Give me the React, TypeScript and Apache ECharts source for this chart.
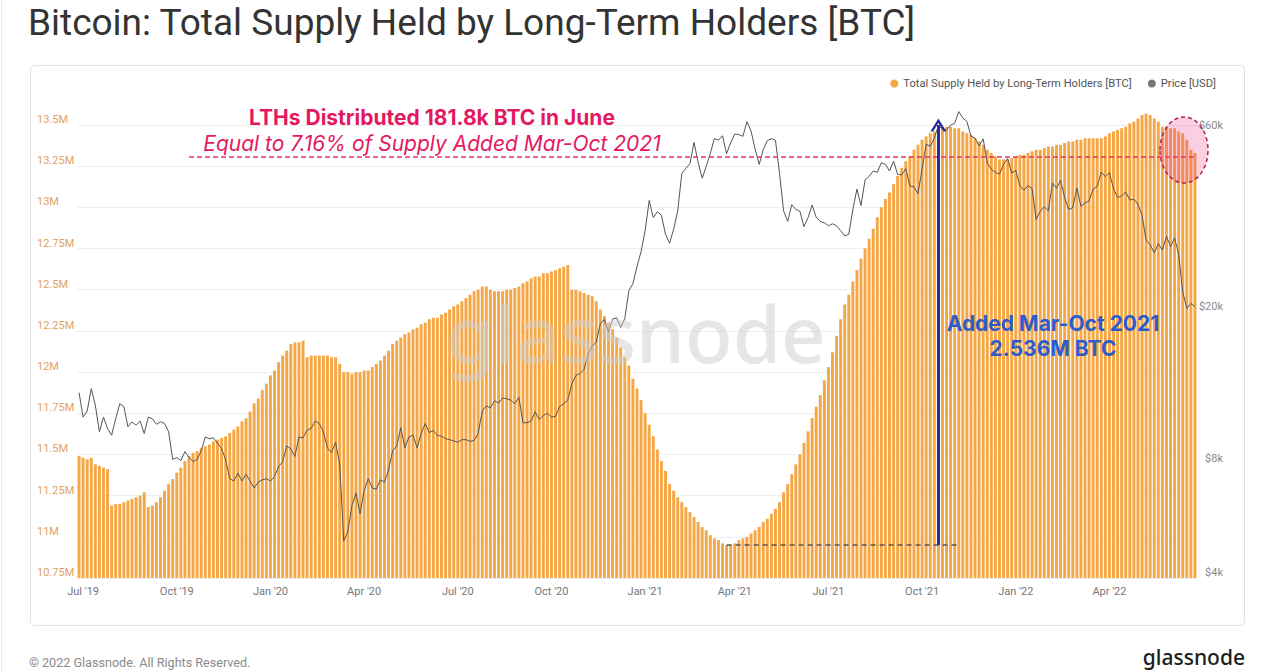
import React, { useEffect, useRef } from "react";
import * as echarts from "echarts";

// ---- data ----
const startDate = "2019-06-27";
const stepDays = 4;

// Total Supply Held by Long-Term Holders, millions of BTC, one value every 4 days
const supplyM = [
  11.49, 11.48, 11.47, 11.48, 11.44, 11.43, 11.42, 11.41, 11.19, 11.2,
  11.2, 11.21, 11.22, 11.23, 11.24, 11.25, 11.27, 11.18, 11.19, 11.21,
  11.24, 11.28, 11.32, 11.35, 11.39, 11.42, 11.46, 11.49, 11.51, 11.52,
  11.54, 11.55, 11.56, 11.58, 11.59, 11.6, 11.61, 11.63, 11.65, 11.67,
  11.7, 11.72, 11.76, 11.81, 11.84, 11.89, 11.93, 11.98, 12.01, 12.06,
  12.1, 12.13, 12.17, 12.18, 12.18, 12.19, 12.09, 12.1, 12.1, 12.1,
  12.1, 12.1, 12.09, 12.09, 12.05, 12.0, 12.0, 11.99, 12.0, 12.0,
  12.01, 12.01, 12.03, 12.05, 12.07, 12.1, 12.13, 12.17, 12.19, 12.21,
  12.23, 12.24, 12.26, 12.27, 12.29, 12.3, 12.32, 12.33, 12.33, 12.35,
  12.36, 12.38, 12.4, 12.41, 12.43, 12.45, 12.47, 12.49, 12.5, 12.52,
  12.52, 12.5, 12.49, 12.49, 12.49, 12.5, 12.5, 12.51, 12.52, 12.54,
  12.55, 12.57, 12.58, 12.58, 12.6, 12.6, 12.61, 12.62, 12.63, 12.64,
  12.65, 12.5, 12.5, 12.49, 12.48, 12.47, 12.46, 12.43, 12.38, 12.34,
  12.3, 12.26, 12.21, 12.15, 12.09, 12.04, 11.96, 11.9, 11.83, 11.75,
  11.68, 11.61, 11.53, 11.46, 11.4, 11.32, 11.28, 11.24, 11.21, 11.18,
  11.15, 11.12, 11.09, 11.06, 11.04, 11.01, 10.99, 10.98, 10.96, 10.95,
  10.95, 10.96, 10.98, 10.99, 11.0, 11.02, 11.04, 11.06, 11.09, 11.11,
  11.14, 11.17, 11.21, 11.27, 11.32, 11.38, 11.44, 11.5, 11.57, 11.64,
  11.72, 11.79, 11.86, 11.95, 12.03, 12.12, 12.22, 12.32, 12.41, 12.47,
  12.55, 12.62, 12.69, 12.75, 12.81, 12.87, 12.94, 13.0, 13.05, 13.09,
  13.14, 13.19, 13.24, 13.28, 13.31, 13.35, 13.38, 13.41, 13.43, 13.45,
  13.46, 13.48, 13.48, 13.49, 13.49, 13.48, 13.48, 13.46, 13.45, 13.44,
  13.42, 13.4, 13.38, 13.35, 13.33, 13.31, 13.29, 13.29, 13.29, 13.3,
  13.31, 13.32, 13.32, 13.33, 13.34, 13.35, 13.35, 13.36, 13.37, 13.37,
  13.38, 13.38, 13.39, 13.4, 13.4, 13.41, 13.41, 13.42, 13.42, 13.42,
  13.42, 13.42, 13.43, 13.45, 13.46, 13.47, 13.48, 13.49, 13.51, 13.52,
  13.54, 13.56, 13.57, 13.56, 13.54, 13.52, 13.49, 13.49, 13.48, 13.48,
  13.46, 13.45, 13.41, 13.35, 13.33,
];

// BTC price, USD, same dates
const priceUsd = [
  12300, 10600, 11000, 12600, 11400, 9700, 10600, 9900, 9500, 10500,
  11500, 11300, 10000, 10300, 10100, 10350, 9600, 10600, 10500, 10150,
  10300, 10200, 9700, 8200, 8300, 8150, 8600, 8300, 8100, 8200,
  8650, 9400, 9300, 9350, 9050, 8750, 8200, 7300, 7200, 7550,
  7200, 7500, 7200, 6900, 7150, 7250, 7300, 7200, 7400, 7850,
  8100, 8900, 8750, 8350, 9400, 9350, 9800, 9900, 10350, 10200,
  9700, 8800, 8550, 9100, 7950, 5000, 5300, 6200, 6700, 5900,
  6800, 7300, 6900, 6850, 7250, 7150, 7700, 8650, 8900, 9950,
  8800, 9400, 9500, 8800, 9600, 10200, 9650, 9780, 9480, 9450,
  9300, 9250, 9180, 9100, 9250, 9250, 9150, 9200, 9600, 11000,
  11350, 11200, 11700, 11550, 11900, 11850, 11750, 11500, 11950, 10250,
  10250, 10350, 10950, 10450, 10700, 10850, 10600, 10650, 11300, 11500,
  11750, 12950, 13650, 13800, 14150, 15500, 16300, 16700, 18700, 19150,
  17750, 19200, 19350, 18250, 19250, 22800, 23800, 26400, 28900, 32800,
  39400, 35500, 36800, 36000, 32100, 30400, 33100, 37000, 46400, 47900,
  49200, 56000, 49700, 45100, 48400, 52400, 57300, 56800, 58300, 52300,
  55900, 58900, 58700, 58100, 63500, 60000, 53800, 49000, 53600, 56600,
  57300, 56700, 46400, 37000, 34700, 38400, 37300, 36900, 33600, 35500,
  38300, 35600, 34700, 34400, 33800, 34200, 33800, 32800, 31800, 32100,
  37300, 42200, 38200, 44600, 45600, 47100, 46700, 49500, 49000, 47100,
  50000, 46100, 46000, 47800, 43000, 42800, 41000, 47700, 55400, 54700,
  57400, 62000, 60700, 60400, 62200, 62900, 67500, 64900, 63600, 58100,
  57500, 54800, 57200, 49400, 47600, 46700, 46200, 49000, 50800, 46500,
  47300, 43100, 41900, 43100, 42400, 35100, 36900, 37900, 37000, 43800,
  42400, 44500, 40100, 37300, 37700, 42500, 38000, 38800, 39300, 42200,
  42900, 46800, 45500, 46600, 42300, 40100, 40500, 41500, 39500, 39700,
  38500, 36000, 31000, 30100, 28700, 30300, 29200, 31700, 29800, 31400,
  28400, 22600, 20500, 21100, 20700,
];

const supplyMin = 10.75;
const supplyMax = 13.682;
const supplyTickStep = 0.25;
const priceMin = 4000;
const priceMax = 74630;
const priceTickValues = [4000, 8000, 20000, 60000];
const quarterMonths = [0, 3, 6, 9];
const monthNames = ["Jan", "Feb", "Mar", "Apr", "May", "Jun", "Jul", "Aug", "Sep", "Oct", "Nov", "Dec"];

// annotation values
const juneLevel = 13.306;
const marchLow = 10.951;
const octHigh = 13.5;
const juneLineStartIdx = 27;
const lowLineStartIdx = 159;
const lowLineEndIdx = 216;
const arrowIdx = 211;

function makeDates(n: number): string[] {
  const t0 = Date.parse(startDate + "T00:00:00Z");
  const out: string[] = [];
  for (let i = 0; i < n; i++) {
    out.push(new Date(t0 + i * stepDays * 86400000).toISOString().slice(0, 10));
  }
  return out;
}

const SUPPLY_NAME = "Total Supply Held by Long-Term Holders [BTC]";
const PRICE_NAME = "Price [USD]";
const FONT = "Roboto, 'Noto Sans', sans-serif";

export default function App() {
  const ref = useRef<HTMLDivElement>(null);

  useEffect(() => {
    document.body.style.margin = "0";
    if (!ref.current) return;
    const chart = echarts.init(ref.current, null, { renderer: "svg" });
    const dates = makeDates(supplyM.length);
    const isQuarterStart = (s: string) => {
      const m = +s.slice(5, 7) - 1;
      const d = +s.slice(8, 10);
      return quarterMonths.includes(m) && d <= stepDays;
    };
    const last = dates.length - 1;
    const chevron = "path://M0,12 L7,0 L14,12 L11.6,12 L7,4.2 L2.4,12 Z";

    const option: any = {
      animation: false,
      backgroundColor: "#ffffff",
      textStyle: { fontFamily: FONT },
      legend: {
        right: 50,
        top: 73,
        icon: "circle",
        itemWidth: 8,
        itemHeight: 8,
        itemGap: 16,
        textStyle: { fontSize: 11.2, color: "#555", fontFamily: FONT },
        data: [SUPPLY_NAME, PRICE_NAME],
      },
      grid: { left: 77, right: 74, top: 95, bottom: 94, containLabel: false },
      xAxis: {
        type: "category",
        data: dates,
        boundaryGap: true,
        axisLine: { show: false },
        axisTick: { show: false },
        splitLine: { show: false },
        axisLabel: {
          interval: (_i: number, v: string) => isQuarterStart(v),
          formatter: (v: string) => {
            const m = +v.slice(5, 7) - 1;
            return `${monthNames[m]} '${v.slice(2, 4)}`;
          },
          color: "#777",
          fontSize: 11,
          margin: 8,
          fontFamily: FONT,
        },
      },
      yAxis: [
        {
          type: "value",
          min: supplyMin,
          max: supplyMax,
          interval: supplyTickStep,
          position: "left",
          axisLine: { show: false },
          axisTick: { show: false },
          splitLine: { show: true, showMaxLine: false, lineStyle: { color: "#eeeeee", width: 1 } },
          axisLabel: {
            showMaxLabel: false,
            formatter: (v: number) => `${parseFloat(v.toFixed(2))}M`,
            align: "left",
            verticalAlign: "bottom",
            margin: 40,
            color: "#dfa263",
            fontSize: 11,
            fontFamily: FONT,
          },
        },
        {
          type: "log",
          logBase: 10,
          min: priceMin,
          max: priceMax,
          position: "right",
          axisLine: { show: false },
          axisTick: { show: false },
          splitLine: { show: false },
          axisLabel: { show: false },
        },
        {
          type: "value",
          min: Math.log10(priceMin),
          max: Math.log10(priceMax),
          position: "right",
          axisLine: { show: false },
          axisTick: { show: false },
          splitLine: { show: false },
          axisLabel: {
            customValues: priceTickValues.map((p) => Math.log10(p)),
            formatter: (v: number) => `$${Math.round(Math.pow(10, v) / 1000)}k`,
            align: "right",
            verticalAlign: "bottom",
            margin: 26,
            color: "#888",
            fontSize: 11,
            fontFamily: FONT,
          },
        },
      ],
      series: [
        {
          name: SUPPLY_NAME,
          type: "bar",
          data: supplyM,
          yAxisIndex: 0,
          barCategoryGap: "28%",
          itemStyle: { color: "#f5a645" },
          z: 2,
          markLine: {
            silent: true,
            animation: false,
            symbol: ["none", "none"],
            label: { show: false },
            data: [
              [
                { coord: [dates[juneLineStartIdx], juneLevel], lineStyle: { color: "#e8336c", type: [5, 3], width: 1.5 } },
                { coord: [dates[last], juneLevel], lineStyle: { color: "#e8336c", type: [5, 3], width: 1.5 } },
              ],
              [
                { coord: [dates[lowLineStartIdx], marchLow], lineStyle: { color: "#555", type: [5, 4], width: 1.5 } },
                { coord: [dates[lowLineEndIdx], marchLow] },
              ],
              [
                { coord: [dates[arrowIdx], marchLow], symbol: "none", lineStyle: { color: "#2b2b9c", type: "solid", width: 3 } },
                { coord: [dates[arrowIdx], octHigh], symbol: chevron, symbolSize: [16, 13] },
              ],
            ],
          },
        },
        {
          name: PRICE_NAME,
          type: "line",
          data: priceUsd,
          yAxisIndex: 1,
          symbol: "none",
          showSymbol: false,
          itemStyle: { color: "#777" },
          lineStyle: { color: "#555", width: 1 },
          z: 3,
        },
      ],
      graphic: [
        {
          type: "rect",
          z: 0,
          silent: true,
          shape: { x: 30.5, y: 65.5, width: 1214, height: 560, r: 4 },
          style: { fill: "none", stroke: "#e2e2e2", lineWidth: 1 },
        },
        {
          type: "line",
          z: 0,
          silent: true,
          shape: { x1: 1.5, y1: 0, x2: 1.5, y2: 672 },
          style: { stroke: "#ececec", lineWidth: 1 },
        },
        {
          type: "text",
          z: 100,
          x: 28,
          y: 22,
          style: { text: "Bitcoin: Total Supply Held by Long-Term Holders [BTC]", fill: "#333", font: `400 37px ${FONT}`, align: "left", verticalAlign: "middle" },
        },
        {
          type: "text",
          z: 5,
          x: 636,
          y: 333,
          style: { text: "glassnode", fill: "rgba(205,205,205,0.5)", font: "500 78px 'Noto Sans', sans-serif", align: "center", verticalAlign: "middle" },
        },
        {
          type: "text",
          z: 100,
          x: 432,
          y: 117,
          style: { text: "LTHs Distributed 181.8k BTC in June", fill: "#e3195f", font: "700 21px Inter, sans-serif", align: "center", verticalAlign: "middle" },
        },
        {
          type: "text",
          z: 100,
          x: 432,
          y: 143,
          style: { text: "Equal to 7.16% of Supply Added Mar-Oct 2021", fill: "#e3195f", font: "italic 400 21px Inter, sans-serif", align: "center", verticalAlign: "middle" },
        },
        {
          type: "text",
          z: 100,
          x: 1053,
          y: 323,
          style: { text: "Added Mar-Oct 2021", fill: "#2c5ccc", font: "700 21px Inter, sans-serif", align: "center", verticalAlign: "middle" },
        },
        {
          type: "text",
          z: 100,
          x: 1053,
          y: 348,
          style: { text: "2.536M BTC", fill: "#2c5ccc", font: "700 21px Inter, sans-serif", align: "center", verticalAlign: "middle" },
        },
        {
          type: "ellipse",
          z: 90,
          silent: true,
          shape: { cx: 1184, cy: 150, rx: 24, ry: 33 },
          style: { fill: "rgba(240,60,140,0.25)", stroke: "#b3234f", lineWidth: 1.5, lineDash: [4, 3] },
        },
        {
          type: "text",
          z: 100,
          x: 29,
          y: 662,
          style: { text: "© 2022 Glassnode. All Rights Reserved.", fill: "#8a8a8a", font: `400 12.6px ${FONT}`, align: "left", verticalAlign: "middle" },
        },
        {
          type: "text",
          z: 100,
          x: 1245,
          y: 657,
          style: { text: "glassnode", fill: "#1c1c1c", font: "500 21px 'Noto Sans', sans-serif", align: "right", verticalAlign: "middle" },
        },
      ],
    };

    chart.setOption(option);
    return () => chart.dispose();
  }, []);

  return <div ref={ref} style={{ width: 1271, height: 672 }} />;
}
